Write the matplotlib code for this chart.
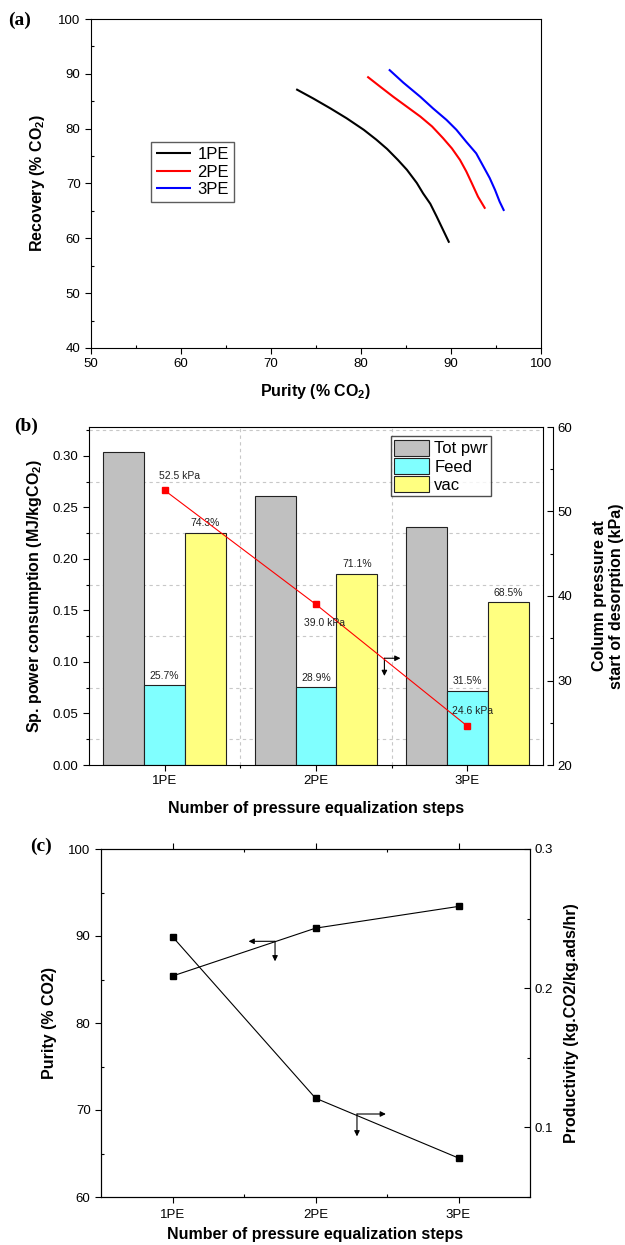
import matplotlib.pyplot as plt
from matplotlib.ticker import MultipleLocator, FixedLocator
import numpy as np

plt.rcParams['font.family'] = ['Liberation Sans', 'DejaVu Sans']
plt.rcParams['mathtext.default'] = 'regular'

# (a) recovery vs purity curves
pur_1pe = [72.8, 74.7, 76.6, 78.4, 80.3, 81.7, 82.9, 84.1, 85.1, 86.2, 86.9, 87.7, 88.4, 89.1, 89.8]
rec_1pe = [87.2, 85.5, 83.7, 81.9, 79.8, 78.0, 76.3, 74.3, 72.5, 70.1, 68.2, 66.3, 64.0, 61.6, 59.2]
pur_2pe = [80.7, 82.1, 83.6, 85.1, 86.6, 87.9, 89.1, 90.1, 91.0, 91.7, 92.3, 93.0, 93.8]
rec_2pe = [89.5, 87.7, 85.8, 84.0, 82.2, 80.4, 78.3, 76.4, 74.3, 72.2, 70.1, 67.6, 65.4]
pur_3pe = [83.1, 84.7, 86.6, 88.0, 89.5, 90.6, 91.7, 92.8, 93.6, 94.3, 94.9, 95.4, 95.9]
rec_3pe = [90.8, 88.4, 85.8, 83.7, 81.6, 79.8, 77.6, 75.5, 73.1, 71.0, 68.8, 66.7, 65.0]

# (b) specific power and desorption pressure
steps = ['1PE', '2PE', '3PE']
tot_pwr = [0.3036, 0.2612, 0.2307]
feed_pwr = [0.0777, 0.0754, 0.0722]
vac_pwr = [0.2256, 0.1858, 0.1579]
feed_pct = ['25.7%', '28.9%', '31.5%']
vac_pct = ['74.3%', '71.1%', '68.5%']
p_desorb = [52.5, 39.0, 24.6]
p_labels = ['52.5 kPa', '39.0 kPa', '24.6 kPa']

# (c) purity and productivity
purity = [85.4, 90.9, 93.4]
productivity = [0.237, 0.121, 0.078]

W, H = 625, 1245
fig = plt.figure(figsize=(W / 100, H / 100), dpi=100)


def box(l, t, r, b):
    return [l / W, 1 - b / H, (r - l) / W, (b - t) / H]


def arrows(ax, x0, y0, x1, y1):
    kw = dict(arrowstyle='-|>', color='k', lw=0.8, mutation_scale=8,
              shrinkA=0, shrinkB=0)
    ax.annotate('', xy=(x1, y0), xytext=(x0, y0), arrowprops=kw)
    ax.annotate('', xy=(x0, y1), xytext=(x0, y0), arrowprops=kw)


def style_ticks(ax):
    ax.tick_params(which='major', direction='out', length=4, width=0.8, labelsize=9.5)
    ax.tick_params(which='minor', direction='in', length=2.5, width=0.8)


# ---------------- (a)
ax = fig.add_axes(box(91, 19, 541, 348))
kw = dict(lw=1.5, solid_joinstyle='round', solid_capstyle='butt')
ax.plot(pur_1pe, rec_1pe, color='black', label='1PE', **kw)
ax.plot(pur_2pe, rec_2pe, color='#ff0000', label='2PE', **kw)
ax.plot(pur_3pe, rec_3pe, color='#0000ff', label='3PE', **kw)
ax.set_xlim(50, 100)
ax.set_ylim(40, 100)
ax.xaxis.set_major_locator(MultipleLocator(10))
ax.xaxis.set_minor_locator(MultipleLocator(5))
ax.yaxis.set_major_locator(MultipleLocator(10))
ax.yaxis.set_minor_locator(MultipleLocator(5))
style_ticks(ax)
ax.set_xlabel('Purity (% CO$_2$)', fontsize=11.5, fontweight='bold', labelpad=8)
ax.set_ylabel('Recovery (% CO$_2$)', fontsize=11.5, fontweight='bold', labelpad=8)
leg = ax.legend(loc='upper left', bbox_to_anchor=(0.133, 0.626), fontsize=12,
                fancybox=False, edgecolor='#333333', handlelength=2.1,
                borderpad=0.3, labelspacing=0.15, handletextpad=0.4,
                borderaxespad=0)
leg.get_frame().set_linewidth(1.0)
fig.text(8 / W, 1 - 12 / H, '(a)', family='Liberation Serif', fontweight='bold',
         fontsize=14, va='top')

# ---------------- (b)
ax = fig.add_axes(box(89, 427, 543, 765))
x = np.arange(1, len(steps) + 1)
bw = 0.27
ax.bar(x - bw, tot_pwr, bw, color='#c0c0c0', edgecolor='#222222', lw=0.8, label='Tot pwr')
ax.bar(x, feed_pwr, bw, color='#80ffff', edgecolor='#222222', lw=0.8, label='Feed')
ax.bar(x + bw, vac_pwr, bw, color='#ffff80', edgecolor='#222222', lw=0.8, label='vac')
for xi, v, s in zip(x, feed_pwr, feed_pct):
    ax.text(xi, v + 0.004, s, ha='center', va='bottom', fontsize=7.5, color='#222222')
for xi, v, s in zip(x + bw, vac_pwr, vac_pct):
    ax.text(xi, v + 0.004, s, ha='center', va='bottom', fontsize=7.5, color='#222222')
ax.set_xlim(0.5, 3.5)
ax.set_ylim(0, 0.328)
ax.set_xticks(x)
ax.set_xticklabels(steps)
ax.xaxis.set_minor_locator(FixedLocator([1.5, 2.5]))
ax.yaxis.set_major_locator(MultipleLocator(0.05))
ax.yaxis.set_minor_locator(MultipleLocator(0.025))
ax.yaxis.set_major_formatter(plt.FormatStrFormatter('%.2f'))
ax.tick_params(which='major', direction='out', length=4, width=0.8, labelsize=9.5)
ax.tick_params(which='minor', direction='out', length=2.5, width=0.8)
ax.grid(which='minor', ls=(0, (3, 3)), color='#c8c8c8', lw=0.8)
ax.set_axisbelow(True)
ax.set_xlabel('Number of pressure equalization steps', fontsize=11.5,
              fontweight='bold', labelpad=10)
ax.set_ylabel('Sp. power consumption (MJ/kgCO$_2$)', fontsize=11.5,
              fontweight='bold', labelpad=6)
leg = ax.legend(loc='upper left', bbox_to_anchor=(0.665, 0.972), fontsize=12,
                fancybox=False, edgecolor='#222222', handlelength=2.1,
                handleheight=1.1, borderpad=0.2, labelspacing=0.1,
                handletextpad=0.3, borderaxespad=0)
leg.get_frame().set_linewidth(1.0)

ax2 = ax.twinx()
ax2.plot(x, p_desorb, color='#ff0000', lw=0.8, marker='s', ms=5, mec='#ff0000')
offs = [(-4, 7), (6, -10), (-11, 7)]
vas = ['bottom', 'top', 'bottom']
for xi, v, s, o, va in zip(x, p_desorb, p_labels, offs, vas):
    ha = 'center' if o[0] > 0 else 'left'
    ax2.annotate(s, (xi, v), xytext=o, textcoords='offset points', fontsize=7.5,
                 ha=ha, va=va, color='#222222')
ax2.set_ylim(20, 60)
ax2.yaxis.set_major_locator(MultipleLocator(10))
ax2.yaxis.set_minor_locator(MultipleLocator(5))
for s in ['top', 'left', 'bottom']:
    ax2.spines[s].set_visible(False)
ax2.spines['right'].set_position(('outward', 7))
ax2.tick_params(which='major', direction='in', length=4, width=0.8, labelsize=9.5)
ax2.tick_params(which='minor', direction='in', length=2.5, width=0.8)
ax2.set_ylabel('Column pressure at\nstart of desorption (kPa)', fontsize=11.5,
               fontweight='bold', labelpad=14)
arrows(ax, 2.452, 0.1036, 2.558, 0.0864)
fig.text(14 / W, 1 - 418 / H, '(b)', family='Liberation Serif', fontweight='bold',
         fontsize=14, va='top')

# ---------------- (c)
ax = fig.add_axes(box(101, 849, 530, 1197))
ax.plot(x, purity, color='black', lw=0.8, marker='s', ms=5)
ax.set_xlim(0.5, 3.5)
ax.set_ylim(60, 100)
ax.set_xticks(x)
ax.set_xticklabels(steps)
ax.xaxis.set_minor_locator(FixedLocator([1.5, 2.5]))
ax.yaxis.set_major_locator(MultipleLocator(10))
ax.yaxis.set_minor_locator(MultipleLocator(5))
ax.tick_params(which='major', direction='out', length=4, width=0.8, labelsize=9.5)
ax.tick_params(which='minor', direction='in', length=2.5, width=0.8)
ax.tick_params(axis='x', which='both', top=True)
ax.tick_params(axis='x', which='major', pad=5)
ax.set_xlabel('Number of pressure equalization steps', fontsize=11.5,
              fontweight='bold', labelpad=4)
ax.set_ylabel('Purity (% CO2)', fontsize=11.5, fontweight='bold', labelpad=8)
arrows(ax, 1.717, 89.39, 1.532, 87.09)

ax2 = ax.twinx()
ax2.plot(x, productivity, color='black', lw=0.8, marker='s', ms=5)
ax2.set_ylim(0.05, 0.3)
ax2.yaxis.set_major_locator(MultipleLocator(0.1))
ax2.yaxis.set_minor_locator(MultipleLocator(0.05))
ax2.yaxis.set_major_formatter(plt.FormatStrFormatter('%.1f'))
ax2.tick_params(which='major', direction='in', length=4, width=0.8, labelsize=9.5)
ax2.tick_params(which='minor', direction='in', length=2.5, width=0.8)
ax2.set_ylabel('Productivity (kg.CO2/kg.ads/hr)', fontsize=11.5,
               fontweight='bold', labelpad=8)
arrows(ax, 2.290, 69.54, 2.492, 66.97)
fig.text(30 / W, 1 - 838 / H, '(c)', family='Liberation Serif', fontweight='bold',
         fontsize=14, va='top')

fig.savefig('out.png', dpi=100)
